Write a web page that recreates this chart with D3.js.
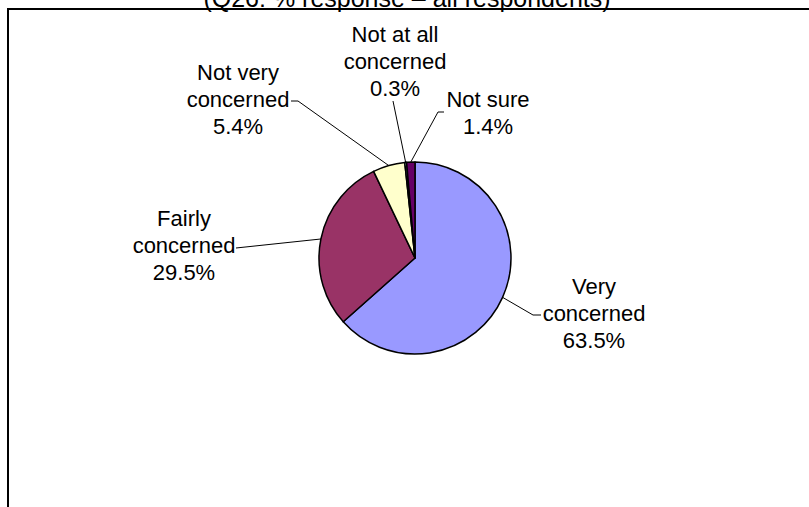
<!DOCTYPE html>
<html>
<head>
<meta charset="utf-8">
<script src="https://cdn.jsdelivr.net/npm/d3@7"></script>
<style>
  html, body { margin: 0; padding: 0; background: #fff; }
  svg { display: block; }
  text { font-family: Arial, 'Liberation Sans', sans-serif; fill: #000; }
</style>
</head>
<body>
<svg id="chart" width="809" height="507"></svg>
<script>
// data
const categories = ['Very concerned', 'Fairly concerned', 'Not very concerned', 'Not at all concerned', 'Not sure'];
const values = [63.5, 29.5, 5.4, 0.3, 1.4];
const labelLines = [
  ['Very', 'concerned', '63.5%'],
  ['Fairly', 'concerned', '29.5%'],
  ['Not very', 'concerned', '5.4%'],
  ['Not at all', 'concerned', '0.3%'],
  ['Not sure', '1.4%'],
];
const colors = ['#9999FF', '#993366', '#FFFFCC', '#CCFFFF', '#660066'];
const title = '(Q26: % response \u2013 all respondents)';

// layout: label centre x, first baseline, where the leader leaves the label
const labelLayout = [
  { x: 594, y: 294, lx: 541, ly: 315, tick: 533 },
  { x: 184, y: 226, lx: 236, ly: 248 },
  { x: 238, y: 80, lx: 291, ly: 101, tick: 298 },
  { x: 395, y: 42, lx: 393, ly: 101 },
  { x: 488, y: 107, lx: 444, ly: 112, tick: 438 },
];
const lineH = 27;
const cx = 415, cy = 258, r = 96;

const svg = d3.select('#chart');

// title (clipped at top like the source)
svg.append('text')
  .attr('x', 407).attr('y', 7)
  .attr('text-anchor', 'middle')
  .style('font-size', '25px')
  .text(title);

// frame
svg.append('path')
  .attr('d', 'M8,520 L8,9 L820,9')
  .attr('fill', 'none').attr('stroke', '#000').attr('stroke-width', 2);

const pie = d3.pie().sort(null).value(d => d)(values);
const arc = d3.arc().innerRadius(0).outerRadius(r);

const g = svg.append('g').attr('transform', `translate(${cx},${cy})`);
g.selectAll('path.slice').data(pie).enter().append('path')
  .attr('class', 'slice')
  .attr('d', arc)
  .attr('fill', (d, i) => colors[i])
  .attr('stroke', '#000').attr('stroke-width', 1.5)
  .attr('stroke-linejoin', 'round');

// leader lines
pie.forEach((d, i) => {
  const a = (d.startAngle + d.endAngle) / 2;
  const px = cx + r * Math.sin(a), py = cy - r * Math.cos(a);
  const L = labelLayout[i];
  const pts = [[L.lx, L.ly]];
  if (L.tick !== undefined) pts.push([L.tick, L.ly]);
  pts.push([px, py]);
  svg.append('path')
    .attr('d', d3.line()(pts))
    .attr('fill', 'none').attr('stroke', '#000').attr('stroke-width', 1);
});

// labels
labelLines.forEach((lines, i) => {
  const L = labelLayout[i];
  const t = svg.append('text')
    .attr('text-anchor', 'middle')
    .style('font-size', '22px');
  lines.forEach((s, j) => {
    t.append('tspan').attr('x', L.x).attr('y', L.y + j * lineH).text(s);
  });
});
</script>
</body>
</html>
